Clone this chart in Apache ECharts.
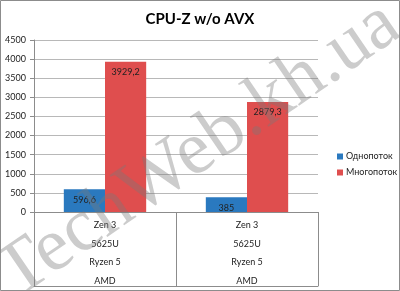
<!DOCTYPE html>
<html><head><meta charset="utf-8">
<script src="https://cdn.jsdelivr.net/npm/echarts@6/dist/echarts.min.js"></script>
<style>html,body{margin:0;padding:0;background:#fff}#c{width:400px;height:291px}</style>
</head><body><div id="c"></div>
<script>
const categories = ["Zen 3\n5625U\nRyzen 5\nAMD", "Zen 3\n5625U\nRyzen 5\nAMD"];
const seriesNames = ["Однопоток", "Многопоток"];
const singleThread = [596.6, 385];
const multiThread = [3929.2, 2879.3];
const yTicks = [0, 500, 1000, 1500, 2000, 2500, 3000, 3500, 4000, 4500];

const FONT = 'Lato, "Open Sans", sans-serif';
const chart = echarts.init(document.getElementById('c'), null, {renderer: 'canvas'});
const lbl = {
  show: true, position: 'insideTop', distance: 6, color: '#222', fontSize: 9, fontFamily: FONT,
  formatter: p => String(p.value).replace('.', ',')
};
chart.setOption({
  animation: false,
  title: {text: 'CPU-Z w/o AVX', left: 'center', top: 7,
    textStyle: {fontSize: 15, fontWeight: 'bold', color: '#000', fontFamily: FONT}},
  legend: {orient: 'vertical', left: 332, top: 147, itemWidth: 6, itemHeight: 6, itemGap: 7,
    icon: 'rect', textStyle: {fontSize: 9, color: '#222', fontFamily: FONT, padding: [0, 0, 0, -2]},
    data: seriesNames},
  grid: {left: 34, right: 82, top: 40, bottom: 79},
  xAxis: [{
    type: 'category', data: categories, position: 'bottom',
    axisLine: {show: true, lineStyle: {color: '#8c8c8c'}},
    axisTick: {show: true, interval: 0, length: 74, lineStyle: {color: '#8c8c8c'}},
    axisLabel: {interval: 0, margin: 4, fontSize: 9, lineHeight: 18.5, color: '#222', fontFamily: FONT}
  }, {
    type: 'category', data: categories, position: 'bottom', offset: 74,
    axisLine: {show: true, lineStyle: {color: '#8c8c8c'}},
    axisTick: {show: false}, axisLabel: {show: false}
  }],
  yAxis: {
    type: 'value', min: yTicks[0], max: yTicks[yTicks.length - 1], interval: 500,
    axisLine: {show: true, lineStyle: {color: '#8c8c8c'}},
    axisTick: {show: true, length: 4, lineStyle: {color: '#8c8c8c'}},
    axisLabel: {margin: 8, fontSize: 9, color: '#222', fontFamily: FONT, formatter: v => String(v)},
    splitLine: {lineStyle: {color: '#b8b8b8'}}
  },
  series: [
    {name: seriesNames[0], type: 'bar', data: singleThread, barGap: '0%', barCategoryGap: '42%',
      itemStyle: {color: '#2a79bf'}, label: lbl},
    {name: seriesNames[1], type: 'bar', data: multiThread,
      itemStyle: {color: '#df4e4e'}, label: lbl}
  ],
  graphic: [
    {type: 'text', x: 199, y: 150, rotation: 0.6, z: 100, silent: true,
      style: {text: 'TechWeb.kh.ua', font: '76px "Liberation Serif", "DejaVu Serif", serif',
        fill: 'rgba(120,120,120,0.38)', textAlign: 'center', textVerticalAlign: 'middle'}},
    {type: 'rect', z: 101, silent: true, shape: {x: 0.5, y: 0.5, width: 399, height: 290},
      style: {fill: 'none', stroke: '#8c8c8c', lineWidth: 1}}
  ]
});
</script></body></html>
